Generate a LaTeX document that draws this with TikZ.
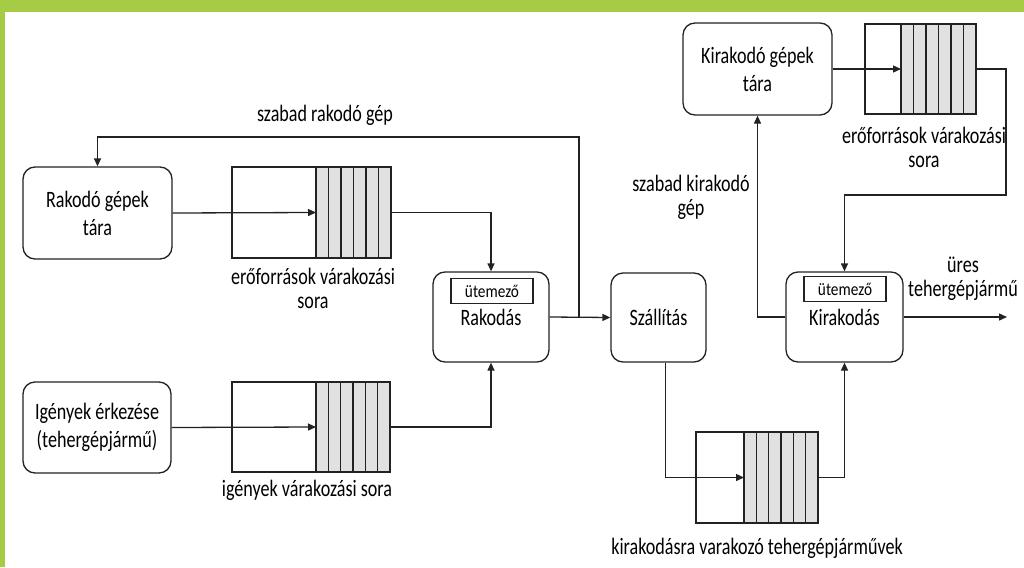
\documentclass[tikz,border=0pt]{standalone}
\usepackage{fontspec}
\setmainfont{Carlito}[FakeStretch=0.77]
\newfontfamily\utfont{Carlito}[FakeStretch=0.85]
\usetikzlibrary{arrows.meta,fit}
\definecolor{barGreen}{HTML}{A6CB45}
\definecolor{qGray}{HTML}{E1E1E1}
\definecolor{lineC}{HTML}{222222}
\newcommand{\drawqueue}[6]{%
  \fill[qGray] (#6,#3) rectangle (#4,#5);
  \foreach \k in {0,...,5}{\draw[conn] ({#6+\k*(#4-#6)/6},#3) -- ({#6+\k*(#4-#6)/6},#5);}
  \node[qbox, fit={(#2,#3) (#4,#5)}] (#1) {};
  \coordinate (#1in) at (#6,{(#3+#5)/2});
}
\begin{document}
\begin{tikzpicture}[x=1pt,y=-1pt,
  every node/.style={font=\fontsize{23.5}{28}\selectfont, text=black},
  proc/.style={draw=lineC, line width=1.3pt, rounded corners=12pt, inner sep=0pt, align=center},
  sched/.style={draw=lineC, line width=1.2pt, inner sep=0pt, minimum width=82pt, minimum height=25pt, font=\utfont\fontsize{18}{18}\selectfont},
  lbl/.style={align=center, font=\fontsize{23.5}{24}\selectfont},
  conn/.style={draw=lineC, line width=1.3pt},
  arr/.style={conn, -{Triangle[length=8pt,width=7pt]}},
  qbox/.style={draw=lineC, line width=1.3pt, inner sep=0pt}
]
\useasboundingbox (0,0) rectangle (1024,567);
\fill[white] (0,0) rectangle (1024,567);
\fill[barGreen] (0,0) rectangle (1024,12);
\fill[barGreen] (0,0) rectangle (4.5,567);

% process boxes
\node[proc, minimum width=149pt, minimum height=92pt] (rt) at (97.5,213) {Rakodó gépek\\tára};
\node[proc, minimum width=148pt, minimum height=91pt] (ig) at (97,427.5) {Igények érkezése\\(tehergépjármű)};
\node[proc, minimum width=116pt, minimum height=90pt] (rak) at (491,317) {Rakodás};
\node[sched] (u1) at (492,291) {ütemező};
\node[proc, minimum width=95pt, minimum height=89pt] (sz) at (658.5,317.5) {Szállítás};
\node[proc, minimum width=117pt, minimum height=90pt] (kir) at (844.5,317) {Kirakodás};
\node[sched] (u2) at (845,289) {ütemező};
\node[proc, minimum width=149pt, minimum height=92pt] (kt) at (757.5,69) {Kirakodó gépek\\tára};

% queues
\drawqueue{qa}{232}{167}{391}{258}{316}
\drawqueue{qb}{232}{382}{390}{472}{316}
\drawqueue{qc}{696}{432}{818}{523}{744}
\drawqueue{qd}{865}{24}{976}{114}{901}

% labels
\node[lbl] (l1) at (325,115) {szabad rakodó gép};
\node[lbl] (l2) at (313,288) {erőforrások várakozási\\sora};
\node[lbl] (l3) at (307,490) {igények várakozási sora};
\node[lbl] (l4) at (757,548) {kirakodásra varakozó tehergépjárművek};
\node[lbl] (l5) at (691,197) {szabad kirakodó\\gép};
\node[lbl] (l6) at (924,147) {erőforrások várakozási\\sora};
\node[lbl] (l7) at (963,279) {üres\\tehergépjármű};

% connector helper coordinates
\coordinate (j1) at (579,317);
\coordinate (tl) at (579,137);
\coordinate (c4) at (1006,195);
\coordinate (out) at (1007,317);

% connectors
\draw[arr] (rt.east) -- (qain);
\draw[arr] (qa.east) -| (rak.north);
\draw[arr] (ig.east) -- (qbin);
\draw[arr] (qb.east) -| (rak.south);
\draw[arr] (rak.east) -- (sz.west);
\draw[arr] (j1) -- (tl) -| (rt.north);
\draw[arr] ([xshift=7pt]sz.south) |- (qcin);
\draw[arr] (qc.east) -| (kir.south);
\draw[arr] (kt.east) -- (qdin);
\draw[arr] (qd.east) -| (c4) -| (kir.north);
\draw[arr] (kir.west) -| (kt.south);
\draw[arr] (kir.east) -- (out);
\end{tikzpicture}
\end{document}
